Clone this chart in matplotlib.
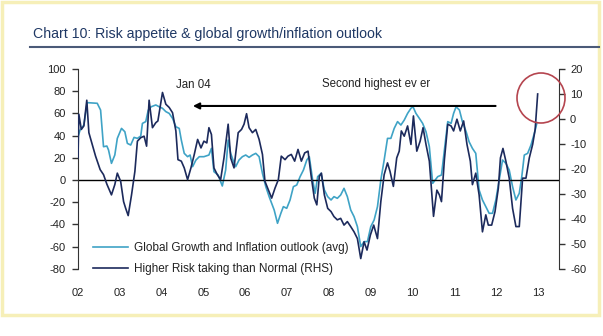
import numpy as np
import matplotlib
matplotlib.use("Agg")
import matplotlib.pyplot as plt
from matplotlib.patches import Ellipse, Rectangle
from matplotlib.lines import Line2D

plt.rcParams['font.family'] = ['Liberation Sans', 'DejaVu Sans']
plt.rcParams['axes.unicode_minus'] = False

# Global growth & inflation outlook (avg), left axis
growth_dates = [2002.00, 2002.05, 2002.14, 2002.22, 2002.46, 2002.54, 2002.61, 2002.69, 2002.73, 2002.80,
                2002.88, 2002.94, 2003.04, 2003.12, 2003.18, 2003.26, 2003.34, 2003.42, 2003.50, 2003.54,
                2003.62, 2003.68, 2003.75, 2003.86, 2003.94, 2004.02, 2004.10, 2004.18, 2004.26, 2004.34,
                2004.42, 2004.47, 2004.54, 2004.62, 2004.68, 2004.74, 2004.82, 2004.90, 2005.01, 2005.13,
                2005.19, 2005.25, 2005.35, 2005.45, 2005.53, 2005.59, 2005.65, 2005.72, 2005.77, 2005.85,
                2005.93, 2006.01, 2006.09, 2006.17, 2006.25, 2006.33, 2006.41, 2006.49, 2006.57, 2006.69,
                2006.77, 2006.85, 2006.91, 2006.99, 2007.07, 2007.15, 2007.23, 2007.31, 2007.39, 2007.47,
                2007.53, 2007.61, 2007.67, 2007.73, 2007.81, 2007.89, 2007.97, 2008.05, 2008.12, 2008.20,
                2008.28, 2008.36, 2008.44, 2008.52, 2008.60, 2008.68, 2008.76, 2008.84, 2008.92, 2009.00,
                2009.08, 2009.16, 2009.24, 2009.32, 2009.40, 2009.48, 2009.56, 2009.64, 2009.72, 2009.80,
                2009.88, 2009.96, 2010.01, 2010.08, 2010.16, 2010.24, 2010.32, 2010.40, 2010.48, 2010.60,
                2010.69, 2010.76, 2010.84, 2010.92, 2010.98, 2011.04, 2011.12, 2011.19, 2011.28, 2011.35,
                2011.43, 2011.51, 2011.59, 2011.67, 2011.75, 2011.83, 2011.91, 2011.99, 2012.07, 2012.15,
                2012.23, 2012.31, 2012.39, 2012.47, 2012.55, 2012.61, 2012.67, 2012.75, 2012.83, 2012.91,
                2012.97]
growth_vals = [39, 45, 49.5, 69.7, 69.1, 63, 30, 30.6, 27, 15,
               22.5, 37.5, 46.5, 43.5, 33, 31.5, 38.4, 37.5, 39.6, 51,
               52.6, 63, 66, 67.6, 66, 64.6, 61.6, 60, 55.6, 48,
               46.5, 36, 24, 21, 22.5, 12, 18, 21, 21, 22.5,
               28.5, 7.5, 4.5, -5.4, 9, 36, 24, 16.5, 12, 18,
               21, 22.5, 20.4, 22.5, 24, 21, 6, -6, -15, -27,
               -39, -30, -24, -25.5, -18, -6, -4.5, 3, 9, 18,
               21, 0, -12, 3, 6, -9, -15, -18, -15, -16.5,
               -13.5, -7.5, -15, -27, -33, -42, -60, -55.5, -55.5, -42,
               -36, -24, 0, 18, 37.5, 37.5, 46.5, 52.6, 49.5, 54,
               60, 64.6, 66, 60, 55.6, 51, 43.5, 30, -3, 3,
               4.5, 27, 52.6, 51, 60, 66, 63, 52.6, 43.5, 34.5,
               28.5, 24, -9, -18, -24, -30, -30, -18, 0, 18,
               15, 9, -6, -18, -12, 3, 22.5, 24, 31.5, 42,
               51]

# Higher risk taking than normal, right axis
risk_dates = [2002.00, 2002.02, 2002.08, 2002.14, 2002.21, 2002.26, 2002.34, 2002.42, 2002.53, 2002.61,
              2002.69, 2002.80, 2002.88, 2002.94, 2003.02, 2003.09, 2003.14, 2003.20, 2003.28, 2003.36,
              2003.42, 2003.50, 2003.58, 2003.64, 2003.70, 2003.78, 2003.86, 2003.91, 2004.02, 2004.10,
              2004.18, 2004.26, 2004.34, 2004.39, 2004.47, 2004.54, 2004.62, 2004.70, 2004.78, 2004.86,
              2004.94, 2005.01, 2005.08, 2005.13, 2005.19, 2005.25, 2005.33, 2005.41, 2005.49, 2005.59,
              2005.65, 2005.73, 2005.83, 2005.91, 2005.97, 2006.03, 2006.09, 2006.17, 2006.25, 2006.33,
              2006.41, 2006.47, 2006.55, 2006.63, 2006.71, 2006.79, 2006.86, 2006.95, 2007.02, 2007.10,
              2007.18, 2007.26, 2007.34, 2007.42, 2007.50, 2007.57, 2007.65, 2007.71, 2007.77, 2007.82,
              2007.89, 2007.97, 2008.05, 2008.12, 2008.20, 2008.28, 2008.36, 2008.44, 2008.52, 2008.60,
              2008.68, 2008.76, 2008.84, 2008.91, 2008.99, 2009.07, 2009.16, 2009.24, 2009.32, 2009.40,
              2009.46, 2009.54, 2009.62, 2009.68, 2009.73, 2009.80, 2009.88, 2009.96, 2010.02, 2010.10,
              2010.18, 2010.25, 2010.32, 2010.40, 2010.50, 2010.58, 2010.64, 2010.69, 2010.76, 2010.84,
              2010.92, 2010.98, 2011.06, 2011.14, 2011.22, 2011.30, 2011.38, 2011.43, 2011.51, 2011.59,
              2011.67, 2011.75, 2011.81, 2011.89, 2011.97, 2012.05, 2012.10, 2012.16, 2012.23, 2012.31,
              2012.39, 2012.47, 2012.55, 2012.63, 2012.71, 2012.79, 2012.87, 2012.93, 2012.99]
risk_vals = [-15.6, 1.9, -4.2, -2.8, 7.5, -5.5, -10.2, -14.9, -20.3, -22.3,
             -26.1, -30.4, -26.3, -21.7, -25, -33.1, -35.8, -38.7, -30.4, -21,
             -8.9, -7.5, -6.9, -10.9, 7.5, -3.5, -1.5, -0.8, 10.6, 5.9,
             4.6, 2.5, -4.8, -16.3, -16.9, -19.6, -24.3, -19.6, -14.2, -8.2,
             -11.6, -8.9, -9.6, -3.5, -6.2, -19.6, -22.3, -24.3, -15.6, -2.1,
             -15.6, -19.6, -5.5, -4.2, -2.1, 2.1, -3.5, -5.5, -4.2, -8.2,
             -14.2, -25, -28.4, -31.7, -27.7, -24.3, -14.9, -16.3, -14.9, -14.2,
             -16.9, -12.2, -16.9, -13.6, -12.9, -22.3, -31.7, -34.4, -23, -21.7,
             -30.4, -35.8, -37.1, -39.1, -40.4, -39.8, -42.5, -41.1, -43.1, -45.2,
             -47.9, -55.9, -49.2, -52.5, -46.5, -42.5, -47.9, -33.1, -22.3, -17.6,
             -21, -27, -15.6, -12.9, -4.8, -6.9, -2.8, -10.2, 1.2, -12.9,
             -8.9, -3.5, -10.2, -16.9, -39, -28.5, -30.4, -33.1, -16.3, -2.1,
             -2.8, -4.8, -0.1, -4.8, -0.8, -10.2, -16.9, -26.3, -21.7, -30.4,
             -45.2, -38.4, -42.5, -42.5, -37.1, -27.7, -15.6, -11.8, -16.9, -23.7,
             -35.8, -43.1, -43.1, -23.7, -23.7, -15.6, -10.2, -4.2, 10]

years = list(range(2002, 2014))
year_labels = ['02', '03', '04', '05', '06', '07', '08', '09', '10', '11', '12', '13']

light = '#3fa3c6'
dark = '#1c2a5c'
txt = '#222222'

fig = plt.figure(figsize=(6.03, 3.36), dpi=100)
ax = fig.add_axes([78 / 603, 1 - 268.8 / 336, 481 / 603, 199.8 / 336])
ax2 = ax.twinx()

ax.plot(growth_dates, growth_vals, color=light, lw=1.2)
ax2.plot(risk_dates, risk_vals, color=dark, lw=1.2)
ax.axhline(0, color='black', lw=1.0)

ax.set_xlim(2002.0, 2013.5)
ax.set_ylim(-80, 100)
ax2.set_ylim(-60, 20)
ax.set_yticks(range(-80, 101, 20))
ax2.set_yticks(range(-60, 21, 10))
ax.set_xticks(years)
ax.set_xticklabels(year_labels)

for a in (ax, ax2):
    a.spines['top'].set_visible(False)
    a.spines['bottom'].set_visible(False)
ax.spines['right'].set_visible(False)
ax2.spines['left'].set_visible(False)
ax.spines['left'].set_color('#333333')
ax2.spines['right'].set_color('#333333')

ax.tick_params(axis='y', length=4, width=1, color='#333333', labelsize=8, labelcolor=txt, pad=5)
ax2.tick_params(axis='y', length=4, width=1, color='#333333', labelsize=8, labelcolor=txt, pad=4)
ax.tick_params(axis='x', length=0, labelsize=8, labelcolor=txt, pad=14)

# annotations
ax.annotate('', xy=(2004.68, 66.7), xytext=(2012.05, 66.7),
            arrowprops=dict(arrowstyle='-|>', color='black', lw=1.5, mutation_scale=9))
ax.text(2004.34, 85.6, 'Jan 04', fontsize=8.3, color=txt, va='center', ha='left')
ax.text(2007.84, 86.5, 'Second highest ev er', fontsize=8.3, color=txt, va='center', ha='left')

handles = [Line2D([], [], color=light, lw=1.2), Line2D([], [], color=dark, lw=1.2)]
labels = ['Global Growth and Inflation outlook (avg)', 'Higher Risk taking than Normal (RHS)']
ax.legend(handles, labels, loc='upper left', bbox_to_anchor=(93 / 603, 1 - 242 / 336),
          bbox_transform=fig.transFigure, frameon=False, fontsize=8.5, borderpad=0,
          borderaxespad=0, handlelength=3.0, handletextpad=0.45, labelspacing=0.75,
          labelcolor=txt)

# red ring around the latest reading
fig.add_artist(Ellipse((541 / 603, 1 - 98 / 336), 48 / 603, 50 / 336, transform=fig.transFigure,
                       fill=False, edgecolor='#b5454f', lw=1.2))

# header and frame
fig.text(33 / 603, 1 - 34 / 336, 'Chart 10: Risk appetite & global growth/inflation outlook',
         fontsize=10.2, color='#1f3864', va='center', ha='left')
fig.add_artist(Line2D([30 / 603, 599 / 603], [1 - 47 / 336, 1 - 47 / 336], transform=fig.transFigure,
                      color='#4b5a78', lw=1.5))
fig.add_artist(Rectangle((2 / 603, 1 - 315 / 336), 597 / 603, 313 / 336, transform=fig.transFigure,
                         fill=False, edgecolor='#f6efb8', lw=2.5))

fig.savefig('out.png', dpi=100, facecolor='white')
